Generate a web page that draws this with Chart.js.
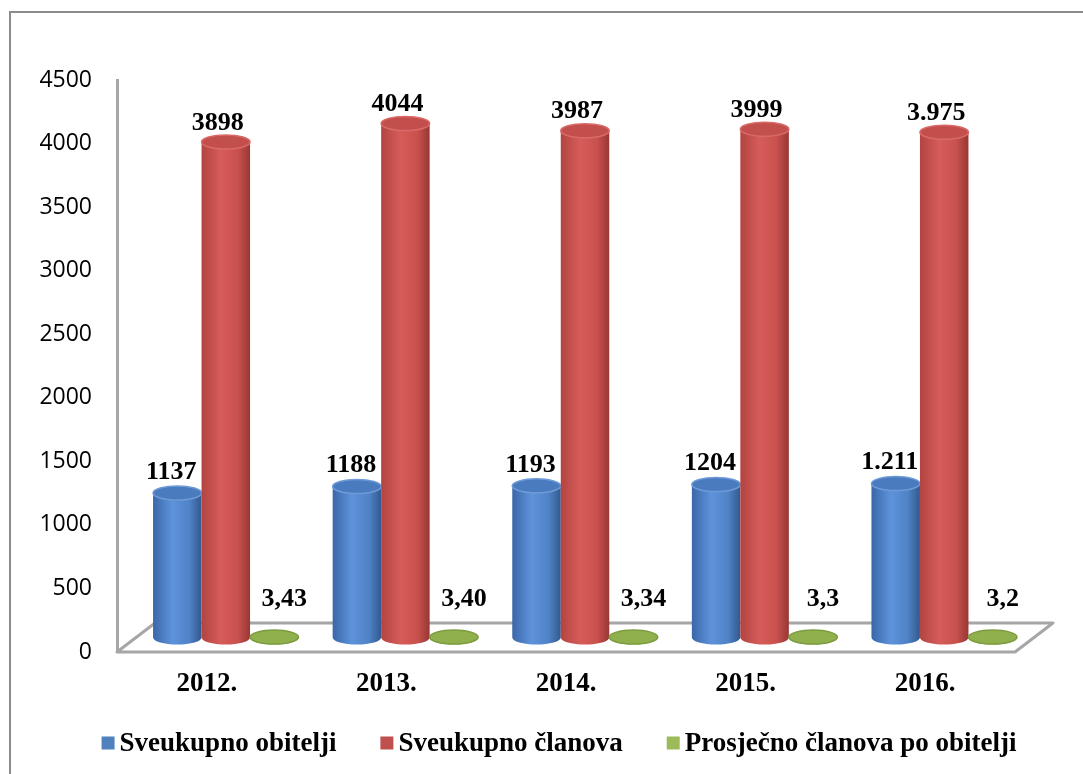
<!DOCTYPE html>
<html>
<head>
<meta charset="utf-8">
<script src="https://cdn.jsdelivr.net/npm/chart.js@4/dist/chart.umd.min.js"></script>
<style>
  html, body { margin: 0; padding: 0; background: #fff; }
  #wrap { width: 1083px; height: 774px; }
</style>
</head>
<body>
<div id="wrap"><canvas id="obiteljiChart" width="1083" height="774"></canvas></div>
<script>
const years = ["2012.", "2013.", "2014.", "2015.", "2016."];
const obitelji = [1137, 1188, 1193, 1204, 1211];
const clanova = [3898, 4044, 3987, 3999, 3975];
const prosjek = [3.43, 3.40, 3.34, 3.3, 3.2];
const obiteljiLabels = ["1137", "1188", "1193", "1204", "1.211"];
const clanovaLabels = ["3898", "4044", "3987", "3999", "3.975"];
const prosjekLabels = ["3,43", "3,40", "3,34", "3,3", "3,2"];
const seriesNames = ["Sveukupno obitelji", "Sveukupno članova", "Prosječno članova po obitelji"];
const yMin = 0;
const yMax = 4500;
const yStep = 500;

// 3D look: floor depth and cylinder shades
const DEPTH_X = 38;
const DEPTH_Y = -29;
const ELLIPSE_RY = 7;
const labelFont = "bold 26px 'Liberation Serif', 'Times New Roman', serif";
const legendFont = "bold 27px 'Liberation Serif', 'Times New Roman', serif";

const shades = [
  { edge: "#3a67a8", light: "#5e93db", mid: "#4f82c6", dark: "#33598f", top: "#4a7bbe", rim: "#6e9bd8", legend: "#4f81bd" },
  { edge: "#b24441", light: "#d65c59", mid: "#c8514e", dark: "#983734", top: "#c24f4c", rim: "#d96a67", legend: "#c0504d" },
  { edge: "#87a648", light: "#a4c463", mid: "#96b656", dark: "#7a973d", top: "#8fb04c", rim: "#7d9c3f", legend: "#9bbb59" },
];
// label nudges (Excel places them a bit off centre)
const labelShift = [
  { dx: -6, lift: 21 },
  { dx: -8, lift: 19 },
  { dx: 10, lift: 38 },
];

const cylinderPlugin = {
  id: "cylinders",
  beforeDraw(chart) {
    const ctx = chart.ctx;
    ctx.save();
    ctx.strokeStyle = "#8c8c8c";
    ctx.lineWidth = 2;
    ctx.beginPath();
    ctx.moveTo(10, 790);
    ctx.lineTo(10, 12);
    ctx.lineTo(1100, 12);
    ctx.stroke();
    ctx.restore();
  },
  beforeDatasetsDraw(chart) {
    const ctx = chart.ctx;
    const area = chart.chartArea;
    const y0 = chart.scales.y.getPixelForValue(0);
    ctx.save();
    ctx.beginPath();
    ctx.moveTo(area.left, y0);
    ctx.lineTo(area.right, y0);
    ctx.lineTo(area.right + DEPTH_X, y0 + DEPTH_Y);
    ctx.lineTo(area.left + DEPTH_X, y0 + DEPTH_Y);
    ctx.closePath();
    ctx.fillStyle = "#ffffff";
    ctx.fill();
    ctx.strokeStyle = "#a6a6a6";
    ctx.lineWidth = 3;
    ctx.lineJoin = "round";
    ctx.stroke();
    ctx.restore();
  },
  afterDatasetsDraw(chart) {
    const ctx = chart.ctx;
    const dx = DEPTH_X / 2;
    const dy = DEPTH_Y / 2;
    const metas = chart.data.datasets.map((ds, i) => chart.getDatasetMeta(i));
    ctx.save();
    for (let i = 0; i < years.length; i++) {
      metas.forEach((meta, d) => {
        const bar = meta.data[i].getProps(["x", "y", "base", "width"], true);
        const s = shades[d];
        const cx = bar.x + dx;
        const rx = bar.width / 2;
        const left = cx - rx;
        const right = cx + rx;
        const top = bar.y + dy;
        const bottom = bar.base + dy;

        const grad = ctx.createLinearGradient(left, 0, right, 0);
        grad.addColorStop(0, s.edge);
        grad.addColorStop(0.4, s.light);
        grad.addColorStop(0.75, s.mid);
        grad.addColorStop(1, s.dark);
        ctx.beginPath();
        ctx.moveTo(left, top);
        ctx.lineTo(left, bottom);
        ctx.ellipse(cx, bottom, rx, ELLIPSE_RY, 0, Math.PI, 0, true);
        ctx.lineTo(right, top);
        ctx.ellipse(cx, top, rx, ELLIPSE_RY, 0, 0, Math.PI, false);
        ctx.closePath();
        ctx.fillStyle = grad;
        ctx.fill();

        ctx.beginPath();
        ctx.ellipse(cx, top, rx, ELLIPSE_RY, 0, 0, Math.PI * 2);
        ctx.fillStyle = s.top;
        ctx.fill();
        ctx.strokeStyle = s.rim;
        ctx.lineWidth = 1.5;
        ctx.stroke();
      });
    }

    // value labels
    ctx.font = labelFont;
    ctx.fillStyle = "#000";
    ctx.textAlign = "center";
    ctx.textBaseline = "middle";
    metas.forEach((meta, d) => {
      const texts = chart.data.datasets[d].valueLabels;
      meta.data.forEach((el, i) => {
        const bar = el.getProps(["x", "y"], true);
        ctx.fillText(texts[i], bar.x + dx + labelShift[d].dx, bar.y + dy - labelShift[d].lift);
      });
    });
    ctx.restore();
  },
  afterDraw(chart) {
    // legend
    const ctx = chart.ctx;
    ctx.save();
    ctx.font = legendFont;
    ctx.textBaseline = "middle";
    ctx.textAlign = "left";
    const box = 13, boxGap = 5, itemGap = 44;
    const widths = chart.data.datasets.map((ds) => ctx.measureText(ds.label).width);
    const total = widths.reduce((a, w) => a + box + boxGap + w, 0) + itemGap * (widths.length - 1);
    let x = 559 - total / 2;
    const yc = 743;
    chart.data.datasets.forEach((ds, d) => {
      ctx.fillStyle = shades[d].legend;
      ctx.fillRect(x, yc - box / 2, box, box);
      ctx.fillStyle = "#000";
      ctx.fillText(ds.label, x + box + boxGap, yc + 1);
      x += box + boxGap + widths[d] + itemGap;
    });
    ctx.restore();
  },
};

const config = {
  type: "bar",
  data: {
    labels: years,
    datasets: [
      { label: seriesNames[0], data: obitelji, valueLabels: obiteljiLabels },
      { label: seriesNames[1], data: clanova, valueLabels: clanovaLabels },
      { label: seriesNames[2], data: prosjek, valueLabels: prosjekLabels },
    ].map((ds) => ({
      ...ds,
      backgroundColor: "rgba(0,0,0,0)",
      borderWidth: 0,
      categoryPercentage: 0.81,
      barPercentage: 1,
    })),
  },
  options: {
    responsive: false,
    animation: false,
    layout: { padding: { top: 80, right: 68, left: 0, bottom: 0 } },
    plugins: {
      legend: { display: false },
      tooltip: { enabled: false },
    },
    scales: {
      y: {
        min: yMin,
        max: yMax,
        ticks: {
          stepSize: yStep,
          padding: 25,
          color: "#000",
          font: { family: "'Open Sans'", size: 23 },
          callback: (v) => String(v),
        },
        grid: { display: false, drawTicks: false },
        border: { display: true, color: "#a6a6a6", width: 3 },
        afterFit(scale) {
          scale.width = 117;
        },
      },
      x: {
        ticks: {
          padding: 16,
          color: "#000",
          font: { family: "'Liberation Serif'", size: 27, weight: "bold" },
        },
        grid: { display: false, drawTicks: false },
        border: { display: false },
        afterFit(scale) {
          scale.height = 122;
        },
      },
    },
  },
  plugins: [cylinderPlugin],
};

const obiteljiChart = new Chart(document.getElementById("obiteljiChart"), config);
</script>
</body>
</html>
